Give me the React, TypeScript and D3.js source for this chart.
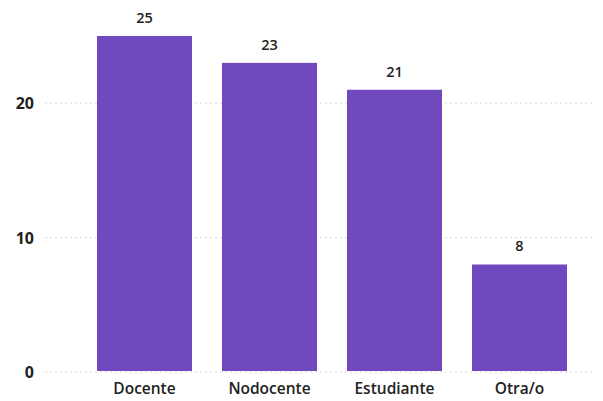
import React from "react";
import * as d3 from "d3";

const categories = ["Docente", "Nodocente", "Estudiante", "Otra/o"];
const values = [25, 23, 21, 8];
const yTicks = [0, 10, 20];

const W = 603;
const H = 401;

export default function App() {
  const x = d3.scaleBand<string>().domain(categories).range([82, 582]).paddingInner(0.24).paddingOuter(0.12);
  const y = d3.scaleLinear().domain([0, 25]).range([372, 36]);
  const color = "#7049be";
  const font = "'Open Sans', Lato, sans-serif";
  return (
    <svg width={W} height={H} style={{ position: "absolute", left: 0, top: 0, background: "#fff" }}>
      {yTicks.map((t) => (
        <g key={t}>
          <line x1={45} x2={595} y1={y(t)} y2={y(t)} stroke="#d8d8d8" strokeWidth={1} strokeDasharray="2,3" />
          <text x={34} y={y(t) + 6} textAnchor="end" fontFamily={font} fontWeight={700} fontSize={16} fill="#222">{t}</text>
        </g>
      ))}
      {categories.map((c, i) => (
        <g key={c}>
          <rect x={x(c)} y={y(values[i])} width={x.bandwidth()} height={y(0) - 1 - y(values[i])} fill={color} />
          <text x={(x(c) as number) + x.bandwidth() / 2} y={y(values[i]) - 13} textAnchor="middle" fontFamily={font} fontWeight={600} fontSize={14.5} fill="#222">{values[i]}</text>
          <text x={(x(c) as number) + x.bandwidth() / 2} y={394} textAnchor="middle" fontFamily={font} fontWeight={600} fontSize={15.5} fill="#222">{c}</text>
        </g>
      ))}
    </svg>
  );
}
